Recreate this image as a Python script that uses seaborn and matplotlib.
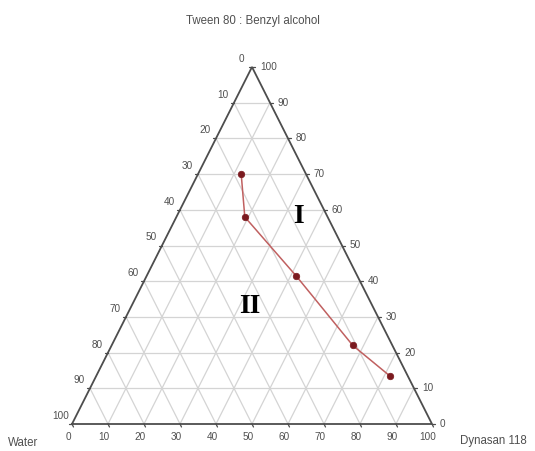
import matplotlib
matplotlib.use("Agg")
import matplotlib.pyplot as plt
import numpy as np
import pandas as pd
import seaborn as sns

# Boundary compositions (% w/w) separating region I and region II
water = [18, 23, 17, 11, 5]
dynasan = [12, 19, 41.5, 67, 81.5]
tween_ba = [70, 58, 41.5, 22, 13.5]

grid_levels = list(range(10, 100, 10))
tick_values = list(range(0, 101, 10))

title_text = "Tween 80 : Benzyl alcohol"
left_corner = "Water"
right_corner = "Dynasan 118"
region_labels = ["I", "II"]
# region label anchors as (water, dynasan, tween) percentages
region_anchor = [(8, 34, 58), (34, 33, 33)]

sns.set_theme(style="white")
plt.rcParams["font.family"] = ["Liberation Sans", "DejaVu Sans"]

AXIS_C = "#4d4d4d"
GRID_C = "#d4d4d4"
TXT_C = "#505050"
LINE_C = "#c06060"
MARK_C = "#7b1a1f"
TICK_FS = 7.2
NAME_FS = 8.3


def to_xy(d, t):
    """Ternary (dynasan %, tween %) -> cartesian in the unit triangle."""
    d = np.asarray(d, dtype=float) / 100.0
    t = np.asarray(t, dtype=float) / 100.0
    return d + t / 2.0, t


fig = plt.figure(figsize=(5.35, 4.51), dpi=100)
ax = fig.add_axes([72 / 535, 27 / 451, 360 / 535, 357 / 451])

# grid lines for every component
for g in grid_levels:
    # constant tween
    x, y = to_xy([0, 100 - g], [g, g])
    ax.plot(x, y, color=GRID_C, lw=0.9, zorder=1, clip_on=False)
    # constant dynasan
    x, y = to_xy([g, g], [0, 100 - g])
    ax.plot(x, y, color=GRID_C, lw=0.9, zorder=1, clip_on=False)
    # constant water
    x, y = to_xy([100 - g, 0], [0, 100 - g])
    ax.plot(x, y, color=GRID_C, lw=0.9, zorder=1, clip_on=False)

# triangle outline
x, y = to_xy([0, 100, 0, 0], [0, 0, 100, 0])
ax.plot(x, y, color=AXIS_C, lw=1.3, zorder=2, clip_on=False, solid_joinstyle="miter")

px = 0.72  # points per pixel at 100 dpi
for v in tick_values:
    # bottom axis: dynasan
    bx, by = to_xy(v, 0)
    ax.plot([bx, bx + 1.5 / 360], [by, by - 3 / 357], color=AXIS_C, lw=0.9, clip_on=False)
    ax.annotate(str(v), (bx, by), xytext=(-4 * px, -13 * px), textcoords="offset points",
                ha="center", va="center", fontsize=TICK_FS, color=TXT_C)
    # left axis: water (0 at top)
    lx, ly = to_xy(0, 100 - v)
    ax.plot([lx, lx - 3 / 360], [ly, ly], color=AXIS_C, lw=0.9, clip_on=False)
    ax.annotate(str(v), (lx, ly), xytext=(-11 * px, 8 * px), textcoords="offset points",
                ha="center", va="center", fontsize=TICK_FS, color=TXT_C)
    # right axis: tween
    rx, ry = to_xy(100 - v, v)
    ax.plot([rx, rx + 3 / 360], [ry, ry], color=AXIS_C, lw=0.9, clip_on=False)
    ax.annotate(str(v), (rx, ry), xytext=(8 * px, 0), textcoords="offset points",
                ha="left", va="center", fontsize=TICK_FS, color=TXT_C)

# boundary curve
px_, py_ = to_xy(dynasan, tween_ba)
df = pd.DataFrame({"x": px_, "y": py_, "water": water})
sns.lineplot(data=df, x="x", y="y", sort=False, color=LINE_C, lw=1.1, ax=ax, zorder=3)
sns.scatterplot(data=df, x="x", y="y", color=MARK_C, s=22, edgecolor=MARK_C,
                linewidth=0.5, ax=ax, zorder=4, clip_on=False)
ax.set_xlim(0, 1)
ax.set_ylim(0, 1)
ax.axis("off")

for lab, (w, d, t) in zip(region_labels, region_anchor):
    lx, ly = to_xy(d, t)
    ax.text(lx, ly, lab, ha="center", va="center", fontsize=20, fontweight="bold",
            family=["Liberation Serif", "DejaVu Serif"], color="black", zorder=5)

fig.text(253 / 535, 1 - 21 / 451, title_text, ha="center", va="center", fontsize=NAME_FS, color=TXT_C)
fig.text(8 / 535, 8 / 451, left_corner, ha="left", va="center", fontsize=NAME_FS, color=TXT_C)
fig.text(460 / 535, 10 / 451, right_corner, ha="left", va="center", fontsize=NAME_FS, color=TXT_C)

fig.savefig("out.png", dpi=100, facecolor="white")
